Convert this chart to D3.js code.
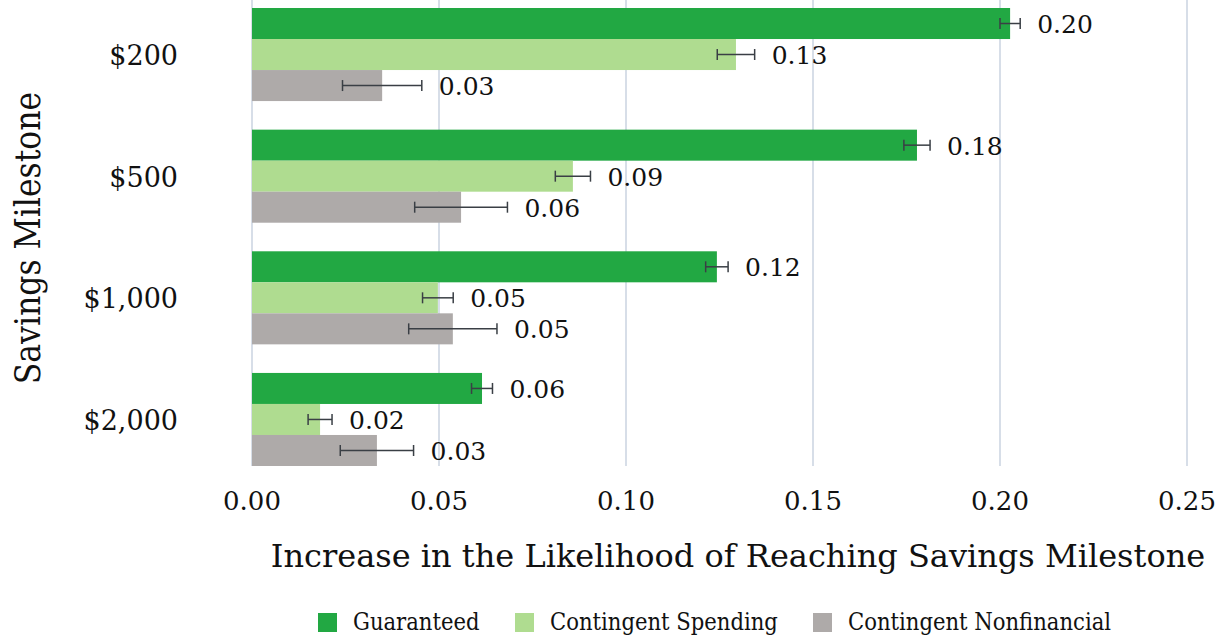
<!DOCTYPE html>
<html>
<head>
<meta charset="utf-8">
<script src="https://cdn.jsdelivr.net/npm/d3@7"></script>
<style>
  body { margin: 0; background: #fff; }
  svg { display: block; }
</style>
</head>
<body>
<svg id="chart"></svg>
<script>
// milestones, top to bottom
const categories = ["$200", "$500", "$1,000", "$2,000"];
const seriesNames = ["Guaranteed", "Contingent Spending", "Contingent Nonfinancial"];

// estimated effects
const guaranteed = [0.2027, 0.1778, 0.1243, 0.0615];
const contingentSpending = [0.1294, 0.0858, 0.0497, 0.0182];
const contingentNonfinancial = [0.0348, 0.0559, 0.0537, 0.0334];

// half-width of the error bars
const guaranteedErr = [0.0027, 0.0035, 0.0030, 0.0028];
const contingentSpendingErr = [0.0050, 0.0047, 0.0041, 0.0032];
const contingentNonfinancialErr = [0.0106, 0.0124, 0.0118, 0.0098];

const xTicks = [0, 0.05, 0.10, 0.15, 0.20, 0.25];

const colors = ["#22a843", "#afdc90", "#aeaaa9"];
const serif = "'DejaVu Serif', serif";
const serifCond = "'DejaVu Serif Condensed', 'DejaVu Serif', serif";

const W = 1224, H = 638;

const svg = d3.select("#chart")
    .attr("width", W)
    .attr("height", H)
    .attr("viewBox", [0, 0, W, H]);

const x = d3.scaleLinear().domain([0, 0.25]).range([252, 1187]);
const y = d3.scaleBand().domain(categories).range([8, 466]).paddingInner(0.235).paddingOuter(0);
const ySub = d3.scaleBand().domain(seriesNames).range([0, y.bandwidth()]);

// build rows for bars
const values = [guaranteed, contingentSpending, contingentNonfinancial];
const errs = [guaranteedErr, contingentSpendingErr, contingentNonfinancialErr];
const rows = [];
categories.forEach((c, i) => {
    seriesNames.forEach((s, j) => {
        rows.push({ cat: c, series: s, idx: j, v: values[j][i], e: errs[j][i] });
    });
});

// grid lines
svg.append("g")
    .selectAll("line")
    .data(xTicks)
    .join("line")
    .attr("x1", d => x(d))
    .attr("x2", d => x(d))
    .attr("y1", 0)
    .attr("y2", 466)
    .attr("stroke", "#d7dee8")
    .attr("stroke-width", 2);

// bars
svg.append("g")
    .selectAll("rect")
    .data(rows)
    .join("rect")
    .attr("x", x(0))
    .attr("y", d => y(d.cat) + ySub(d.series))
    .attr("width", d => x(d.v) - x(0))
    .attr("height", ySub.bandwidth())
    .attr("fill", d => colors[d.idx]);

// error bars
const eb = svg.append("g")
    .attr("stroke", "#3a3f45")
    .attr("stroke-width", 1.5)
    .selectAll("g")
    .data(rows)
    .join("g")
    .attr("transform", d => `translate(0,${y(d.cat) + ySub(d.series) + ySub.bandwidth() / 2})`);

eb.append("line")
    .attr("x1", d => x(d.v - d.e))
    .attr("x2", d => x(d.v + d.e));
eb.append("line")
    .attr("x1", d => x(d.v - d.e)).attr("x2", d => x(d.v - d.e))
    .attr("y1", -5.5).attr("y2", 5.5);
eb.append("line")
    .attr("x1", d => x(d.v + d.e)).attr("x2", d => x(d.v + d.e))
    .attr("y1", -5.5).attr("y2", 5.5);

// data labels
svg.append("g")
    .selectAll("text")
    .data(rows)
    .join("text")
    .attr("x", d => x(d.v + d.e) + 17)
    .attr("y", d => y(d.cat) + ySub(d.series) + ySub.bandwidth() / 2 + 3)
    .attr("dominant-baseline", "middle")
    .attr("font-family", serif)
    .attr("font-size", 25)
    .attr("fill", "#111")
    .text(d => d3.format(".2f")(d.v));

// category labels
svg.append("g")
    .selectAll("text")
    .data(categories)
    .join("text")
    .attr("x", 178)
    .attr("y", d => y(d) + y.bandwidth() / 2 + 3)
    .attr("text-anchor", "end")
    .attr("dominant-baseline", "middle")
    .attr("font-family", serif)
    .attr("font-size", 27)
    .attr("fill", "#111")
    .text(d => d);

// x tick labels
svg.append("g")
    .selectAll("text")
    .data(xTicks)
    .join("text")
    .attr("x", d => x(d))
    .attr("y", 503)
    .attr("text-anchor", "middle")
    .attr("dominant-baseline", "middle")
    .attr("font-family", serif)
    .attr("font-size", 26)
    .attr("fill", "#111")
    .text(d => d3.format(".2f")(d));

// axis titles
svg.append("text")
    .attr("x", 738)
    .attr("y", 558)
    .attr("text-anchor", "middle")
    .attr("dominant-baseline", "middle")
    .attr("font-family", serif)
    .attr("font-size", 32)
    .attr("fill", "#111")
    .text("Increase in the Likelihood of Reaching Savings Milestone");

svg.append("text")
    .attr("transform", "translate(30,238) rotate(-90)")
    .attr("text-anchor", "middle")
    .attr("dominant-baseline", "middle")
    .attr("font-family", serifCond)
    .attr("font-size", 35)
    .attr("fill", "#111")
    .text("Savings Milestone");

// legend
const legendX = [318, 515, 813];
const legend = svg.append("g")
    .selectAll("g")
    .data(seriesNames)
    .join("g")
    .attr("transform", (d, i) => `translate(${legendX[i]},613)`);
legend.append("rect")
    .attr("width", 19)
    .attr("height", 19)
    .attr("fill", (d, i) => colors[i]);
legend.append("text")
    .attr("x", 35)
    .attr("y", 10)
    .attr("dominant-baseline", "middle")
    .attr("font-family", serifCond)
    .attr("font-size", 23.5)
    .attr("fill", "#111")
    .text(d => d);
</script>
</body>
</html>
